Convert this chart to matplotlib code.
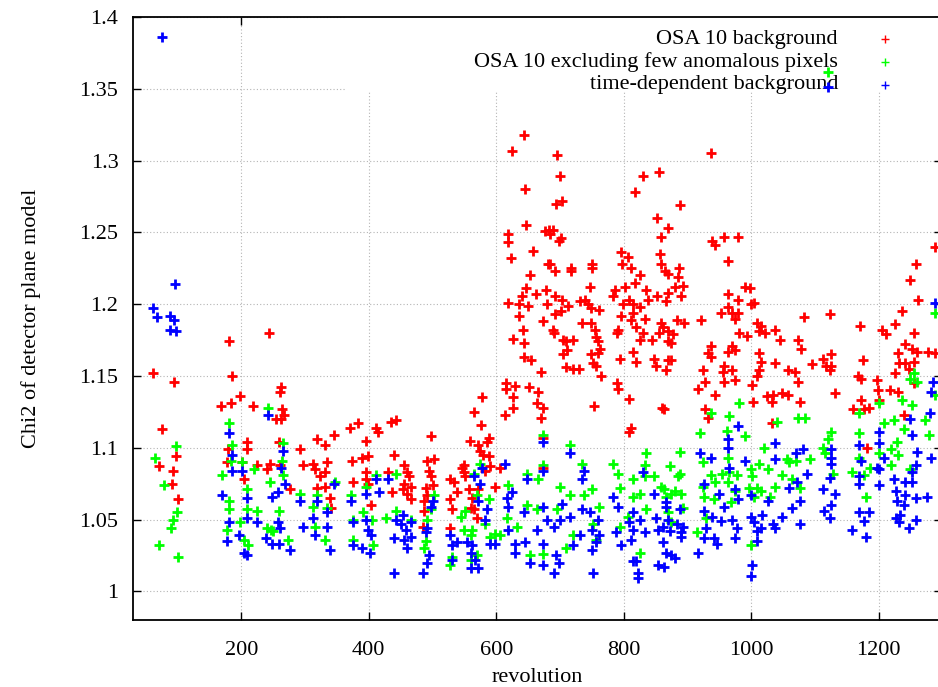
import matplotlib
matplotlib.use("Agg")
import matplotlib.pyplot as plt
from matplotlib.patches import Rectangle
from matplotlib.ticker import FormatStrFormatter

plt.rcParams["font.family"] = ["Liberation Serif", "DejaVu Serif"]

# ---------------------------------------------
# chi2 per revolution, three background models
# ---------------------------------------------
labels = [
    "OSA 10 background",
    "OSA 10 excluding few anomalous pixels",
    "time-dependent background",
]
colors = ["#ff0000", "#00ff00", "#0000ff"]

red_x = [
    243, 181, 62, 185, 95, 263, 260, 198, 168, 184, 219, 264, 267, 254, 262, 76,
    370, 383, 411, 415, 435, 443, 345, 318, 395,
    98, 71, 92, 91, 100, 209, 209, 179, 177, 201, 204, 225, 245, 240, 259, 261,
    276, 292, 297, 313, 315, 332, 334, 331, 323, 319, 332, 339, 341, 374, 375,
    390, 398, 396, 396, 398, 404, 430, 440, 437,
    644, 624, 696, 700, 645, 693, 703, 647, 618, 619, 623, 658, 676, 683, 689,
    685, 699, 701, 682, 684, 692, 717, 718, 751, 750, 653, 795, 807, 798, 812,
    826, 818, 831, 855, 853, 869, 859, 857, 859, 865, 869,
    647, 640, 662, 678, 619, 636, 650, 692, 703, 680, 712, 635, 674, 692, 702,
    731, 739, 747, 744, 748, 761, 734, 749, 755, 757, 759, 763, 759, 749, 752,
    757, 764, 642, 626, 644, 689, 691, 705, 709, 721, 711, 704, 710, 721, 730,
    643, 654, 670, 616, 616, 630, 626, 627, 614, 652, 666, 664, 673, 671, 578,
    565, 576, 754, 790, 791, 808, 812, 860, 783, 786, 802, 817, 809, 814, 799,
    835, 838, 825, 814, 796, 812, 820, 833, 789, 791, 825, 814, 820, 794, 848,
    851, 845, 855, 861, 859, 853, 867, 869, 869, 869, 830,
    497, 455, 460, 463, 455, 466, 460, 466, 453, 492, 502, 494, 497, 490, 492,
    487, 487, 485, 500, 528, 533, 538, 528, 531, 528, 546, 549, 551, 549, 559,
    572, 575, 588, 585, 580, 588, 590, 582, 557, 562, 561, 565, 570, 572, 598,
    606, 674, 674, 809,
    937, 889, 939, 944, 958, 980, 964, 887, 885, 880, 893, 890, 991, 998, 963,
    980, 999, 1004, 963, 953, 970, 980, 975, 921, 883, 894, 1009, 1015, 1038,
    1083, 1123, 1171, 1206, 1226, 1236, 1262, 1250, 1258, 1289,
    870, 877, 875, 981, 994, 1012, 1022, 1046, 1074, 1079, 1211, 1255, 1242,
    1252, 1260, 1277, 1289, 1230, 1232, 1242, 1226, 1255, 1248, 875, 867, 937,
    963, 932, 937, 970, 975, 925, 958, 956, 970, 927, 916, 958, 975, 943, 864,
    927, 932, 1012, 1015, 1038, 1012, 1009, 1001, 1003, 1025, 1035, 1048, 1058,
    1033, 1077, 1033, 1058, 1069, 1074, 1095, 1113, 1126, 1118, 1126, 1123,
    1131, 1175, 1167, 1172, 1197, 1199, 1201, 1218, 1230, 1160, 1172, 1177,
    1185, 1240, 1182, 1255,
]
red_y = [
    1.180, 1.174, 1.152, 1.150, 1.146, 1.142, 1.139, 1.136, 1.129, 1.131, 1.129,
    1.127, 1.123, 1.120, 1.120, 1.113, 1.114, 1.117, 1.114, 1.111, 1.118, 1.119,
    1.109, 1.106, 1.105,
    1.094, 1.087, 1.084, 1.075, 1.064, 1.104, 1.099, 1.099, 1.090, 1.090, 1.078,
    1.088, 1.089, 1.085, 1.104, 1.088, 1.071, 1.099, 1.088, 1.089, 1.085, 1.102,
    1.090, 1.083, 1.080, 1.072, 1.073, 1.065, 1.058, 1.091, 1.076, 1.093, 1.094,
    1.083, 1.078, 1.075, 1.060, 1.083, 1.095, 1.069,
    1.318, 1.307, 1.304, 1.289, 1.280, 1.270, 1.272, 1.255, 1.249, 1.243, 1.232,
    1.237, 1.251, 1.252, 1.252, 1.249, 1.244, 1.246, 1.228, 1.228, 1.223, 1.225,
    1.223, 1.228, 1.225, 1.220, 1.236, 1.233, 1.228, 1.225, 1.220, 1.278, 1.289,
    1.292, 1.260, 1.253, 1.247, 1.235, 1.228, 1.223, 1.221,
    1.211, 1.206, 1.207, 1.210, 1.201, 1.200, 1.199, 1.206, 1.203, 1.200, 1.199,
    1.192, 1.188, 1.193, 1.195, 1.202, 1.203, 1.212, 1.200, 1.197, 1.196, 1.187,
    1.187, 1.182, 1.177, 1.174, 1.169, 1.166, 1.165, 1.159, 1.157, 1.150, 1.182,
    1.176, 1.173, 1.182, 1.180, 1.175, 1.174, 1.175, 1.168, 1.165, 1.156, 1.155,
    1.155, 1.163, 1.161, 1.153, 1.145, 1.141, 1.143, 1.135, 1.128, 1.123, 1.142,
    1.139, 1.131, 1.128, 1.121, 1.135, 1.125, 1.116, 1.129, 1.145, 1.141, 1.134,
    1.114, 1.128, 1.206, 1.210, 1.212, 1.215, 1.203, 1.200, 1.200, 1.210, 1.203,
    1.198, 1.194, 1.192, 1.189, 1.184, 1.190, 1.180, 1.182, 1.175, 1.167, 1.160,
    1.162, 1.162, 1.157, 1.175, 1.180, 1.184, 1.187, 1.206, 1.202, 1.208, 1.161,
    1.174, 1.180,
    1.108, 1.088, 1.083, 1.080, 1.075, 1.073, 1.068, 1.064, 1.071, 1.091, 1.092,
    1.084, 1.080, 1.072, 1.067, 1.063, 1.056, 1.045, 1.074, 1.078, 1.076, 1.069,
    1.064, 1.057, 1.044, 1.086, 1.083, 1.080, 1.088, 1.105, 1.102, 1.098, 1.107,
    1.104, 1.095, 1.094, 1.087, 1.084, 1.071, 1.065, 1.058, 1.057, 1.051, 1.071,
    1.073, 1.086, 1.107, 1.086, 1.111,
    1.305, 1.269, 1.244, 1.241, 1.247, 1.247, 1.230, 1.225, 1.219, 1.212, 1.213,
    1.206, 1.212, 1.211, 1.207, 1.203, 1.200, 1.201, 1.198, 1.194, 1.194, 1.194,
    1.190, 1.189, 1.189, 1.187, 1.187, 1.185, 1.182, 1.191, 1.193, 1.185, 1.182,
    1.186, 1.195, 1.203, 1.217, 1.228, 1.240,
    1.181, 1.179, 1.173, 1.180, 1.178, 1.181, 1.180, 1.175, 1.175, 1.169, 1.179,
    1.180, 1.172, 1.169, 1.167, 1.167, 1.166, 1.166, 1.159, 1.159, 1.152, 1.160,
    1.155, 1.161, 1.154, 1.171, 1.167, 1.166, 1.163, 1.171, 1.168, 1.154, 1.157,
    1.153, 1.154, 1.146, 1.141, 1.146, 1.147, 1.137, 1.127, 1.127, 1.121, 1.166,
    1.160, 1.159, 1.154, 1.150, 1.144, 1.132, 1.136, 1.137, 1.138, 1.137, 1.132,
    1.132, 1.117, 1.154, 1.153, 1.146, 1.158, 1.162, 1.165, 1.157, 1.157, 1.154,
    1.138, 1.161, 1.150, 1.148, 1.147, 1.140, 1.133, 1.140, 1.139, 1.127, 1.133,
    1.127, 1.128, 1.123, 1.100, 1.145,
]

green_x = [
    242, 181, 97, 64, 79, 99, 92, 90, 71, 100,
    186, 183, 170, 201, 220, 209, 180, 180, 177, 198, 209, 225, 245, 246, 240,
    259, 265, 264, 266, 292, 274, 318, 313, 315, 334, 331, 347, 372, 375, 375,
    391, 405, 406, 411, 427, 442, 442, 204, 211, 396, 250,
    466, 492, 489, 487, 502, 497, 528, 531, 544, 551, 549, 561, 562, 565, 575,
    570, 588, 582, 598, 606, 590, 570, 561, 619, 617, 632, 648, 648, 666, 673,
    674, 664, 653, 674, 700, 695, 716, 716, 721, 710, 734, 737, 750, 762, 752,
    757, 783, 791, 794, 794, 815, 815, 825, 833, 835, 833, 848, 859, 825, 835,
    807,
    937, 981, 965, 919, 962, 991, 1041, 1074, 1084, 1126, 1121, 1113, 1020,
    1057, 1070, 1093, 1116, 889, 925, 963, 1012, 1170, 1170, 1201, 1209, 1224,
    1240, 1229, 1255, 1260, 1250, 1237, 1252, 1279, 1273, 1201, 1220, 1230,
    1186, 1170, 1289,
    872, 888, 886, 864, 875, 890, 880, 867, 893, 870, 875, 915, 937, 925, 926,
    944, 954, 965, 978, 963, 975, 942, 968, 929, 999, 1002, 996, 1009, 1015,
    1004, 1027, 1038, 1048, 1030, 1064, 1077, 1059, 999, 1128, 1159, 1177,
    1180, 1220, 1250,
    1121, 1289,
]
green_y = [
    1.128, 1.117, 1.101, 1.093, 1.074, 1.055, 1.050, 1.044, 1.032, 1.024,
    1.102, 1.091, 1.081, 1.090, 1.085, 1.071, 1.063, 1.057, 1.043, 1.048, 1.057,
    1.056, 1.076, 1.043, 1.044, 1.056, 1.103, 1.091, 1.081, 1.068, 1.036, 1.067,
    1.059, 1.045, 1.058, 1.036, 1.076, 1.067, 1.050, 1.036, 1.055, 1.050, 1.032,
    1.081, 1.051, 1.056, 1.082, 1.036, 1.032, 1.073, 1.042,
    1.050, 1.050, 1.035, 1.030, 1.067, 1.057, 1.018, 1.024, 1.052, 1.056, 1.043,
    1.039, 1.043, 1.082, 1.089, 1.067, 1.064, 1.047, 1.040, 1.039, 1.038, 1.025,
    1.022, 1.074, 1.051, 1.045, 1.060, 1.082, 1.078, 1.088, 1.109, 1.057, 1.025,
    1.026, 1.073, 1.057, 1.067, 1.102, 1.039, 1.030, 1.089, 1.067, 1.071, 1.059,
    1.047, 1.036, 1.089, 1.082, 1.072, 1.045, 1.078, 1.066, 1.068, 1.088, 1.096,
    1.080, 1.080, 1.073, 1.027, 1.057, 1.052,
    1.124, 1.131, 1.122, 1.110, 1.112, 1.108, 1.118, 1.121, 1.121, 1.111, 1.106,
    1.100, 1.100, 1.092, 1.091, 1.092, 1.096, 1.097, 1.090, 1.093, 1.089, 1.124,
    1.110, 1.131, 1.117, 1.119, 1.113, 1.104, 1.152, 1.146, 1.148, 1.133, 1.130,
    1.109, 1.119, 1.096, 1.099, 1.095, 1.086, 1.093, 1.137,
    1.087, 1.082, 1.080, 1.071, 1.068, 1.068, 1.070, 1.066, 1.058, 1.055, 1.048,
    1.041, 1.081, 1.073, 1.066, 1.076, 1.082, 1.083, 1.081, 1.076, 1.070, 1.064,
    1.062, 1.051, 1.085, 1.080, 1.072, 1.072, 1.070, 1.066, 1.085, 1.073, 1.081,
    1.066, 1.078, 1.072, 1.090, 1.032, 1.082, 1.083, 1.081, 1.066, 1.088, 1.085,
    1.362, 1.194,
]

blue_x = [
    76, 96, 62, 68, 88, 95, 88, 98, 242, 181,
    186, 185, 201, 170, 209, 209, 180, 177, 197, 204, 209, 224, 239, 248, 259,
    261, 258, 248, 258, 269, 265, 262, 276, 292, 297, 313, 318, 315, 334, 334,
    339, 345, 372, 375, 376, 390, 396, 398, 404, 402, 396, 411, 416, 440, 430,
    442, 440,
    450, 458, 466, 455, 460, 453, 466, 485, 489, 492, 494, 492, 497, 500, 528,
    531, 531, 539, 554, 561, 562, 567, 572, 561, 565, 575, 572, 585, 582, 590,
    598, 577, 614, 617, 624, 619, 619, 630, 630, 645, 653, 648, 643, 664, 674,
    680, 674, 674, 674, 673, 690, 693, 690, 698, 700, 703, 716, 716, 721, 731,
    734, 734, 737, 747, 750, 750, 752, 760, 762, 757, 783, 791, 788, 796, 809,
    815, 812, 815, 820, 823, 823, 815, 825, 830, 833, 848, 851, 854, 867, 854,
    979, 963, 963, 1038, 1038, 1082, 1070, 1126, 1126, 1126, 919, 937, 991, 965,
    1170, 1172, 1201, 1201, 1209, 1197, 1250, 1252, 1260, 1258, 1280, 1283,
    1286, 1283,
    867, 870, 862, 873, 883, 890, 893, 888, 862, 867, 875, 880, 863, 890, 916,
    926, 926, 929, 926, 939, 942, 947, 949, 952, 957, 970, 975, 975, 980, 978,
    999, 999, 1004, 1009, 1009, 1002, 999, 1015, 1017, 1027, 1035, 1038, 1048,
    1059, 1072, 1064, 1077, 1077, 1087, 1113, 1123, 1131, 1126, 1115, 1123,
    1159, 1170, 1177, 1185, 1180, 1170, 1170, 1201, 1201, 1224, 1227, 1229,
    1242, 1240, 1227, 1232, 1234, 1247, 1258, 1258, 1276, 1242, 1252, 1252,
    1121, 1289,
]
blue_y = [
    1.386, 1.214, 1.197, 1.191, 1.192, 1.189, 1.182, 1.181, 1.123, 1.110,
    1.095, 1.084, 1.084, 1.067, 1.065, 1.051, 1.048, 1.035, 1.039, 1.027, 1.025,
    1.048, 1.037, 1.033, 1.033, 1.044, 1.048, 1.066, 1.069, 1.075, 1.098, 1.086,
    1.029, 1.063, 1.045, 1.051, 1.063, 1.039, 1.055, 1.045, 1.029, 1.075, 1.063,
    1.048, 1.032, 1.030, 1.050, 1.043, 1.039, 1.027, 1.068, 1.078, 1.069, 1.013,
    1.078, 1.050, 1.037,
    1.047, 1.043, 1.048, 1.036, 1.030, 1.053, 1.038, 1.013, 1.041, 1.044, 1.025,
    1.020, 1.059, 1.063, 1.039, 1.032, 1.022, 1.034, 1.034, 1.027, 1.032, 1.022,
    1.016, 1.016, 1.080, 1.075, 1.063, 1.057, 1.050, 1.033, 1.033, 1.086, 1.089,
    1.065, 1.069, 1.059, 1.043, 1.033, 1.027, 1.034, 1.020, 1.078, 1.055, 1.043,
    1.059, 1.050, 1.033, 1.018, 1.104, 1.084, 1.045, 1.025, 1.013, 1.020, 1.050,
    1.061, 1.052, 1.096, 1.032, 1.039, 1.057, 1.078, 1.084, 1.055, 1.043, 1.029,
    1.013, 1.050, 1.039, 1.034, 1.066, 1.059, 1.041, 1.032, 1.048, 1.043, 1.036,
    1.021, 1.021, 1.013, 1.009, 1.055, 1.050, 1.083, 1.041, 1.068, 1.051, 1.043,
    1.059, 1.018,
    1.115, 1.106, 1.100, 1.103, 1.092, 1.099, 1.096, 1.099, 1.093, 1.089, 1.096,
    1.093, 1.091, 1.086, 1.102, 1.091, 1.111, 1.103, 1.093, 1.086, 1.120, 1.109,
    1.097, 1.088, 1.124, 1.093, 1.146, 1.139,
    1.062, 1.050, 1.045, 1.042, 1.047, 1.041, 1.045, 1.057, 1.034, 1.027, 1.025,
    1.023, 1.017, 1.038, 1.027, 1.075, 1.056, 1.044, 1.037, 1.052, 1.037, 1.033,
    1.068, 1.049, 1.059, 1.050, 1.037, 1.071, 1.064, 1.044, 1.067, 1.052, 1.048,
    1.042, 1.035, 1.018, 1.011, 1.044, 1.053, 1.063, 1.047, 1.044, 1.052, 1.072,
    1.076, 1.058, 1.063, 1.047, 1.082, 1.071, 1.079, 1.068, 1.060, 1.056, 1.051,
    1.043, 1.055, 1.049, 1.055, 1.038, 1.075, 1.080, 1.085, 1.074, 1.078, 1.070,
    1.063, 1.067, 1.060, 1.051, 1.048, 1.053, 1.044, 1.050, 1.065, 1.066, 1.076,
    1.076, 1.083,
    1.351, 1.201,
]

x_ticks = [200, 400, 600, 800, 1000, 1200]
y_ticks = [1.0, 1.05, 1.1, 1.15, 1.2, 1.25, 1.3, 1.35, 1.4]

# ---------------------------------------------
# figure
# ---------------------------------------------
fig = plt.figure(figsize=(9.38, 6.87), dpi=100)
ax = fig.add_axes([0.1418, 0.0975, 0.8628, 0.8777])

ax.set_xlim(30, 1300)
ax.set_ylim(0.98, 1.4)
ax.set_xticks(x_ticks)
ax.set_yticks(y_ticks)
ax.yaxis.set_major_formatter(FormatStrFormatter("%g"))

ax.set_axisbelow(True)
ax.grid(True, linestyle=(0, (1, 2)), color="#b4b4b4", linewidth=0.8)
ax.tick_params(direction="in", length=6, width=1.0, top=True, right=True,
               labelsize=16, colors="black")
ax.tick_params(axis="x", pad=15)
ax.tick_params(axis="y", pad=10.5)
for sp in ax.spines.values():
    sp.set_linewidth(1.3)

# key area is opaque over the grid
ax.add_patch(Rectangle((0.262, 0.8756), 0.75, 0.13, transform=ax.transAxes,
                       facecolor="white", edgecolor="none", zorder=1))

series = [(red_x, red_y), (green_x, green_y), (blue_x, blue_y)]
for (xs, ys), c in zip(series, colors):
    ax.plot(xs, ys, linestyle="none", marker="+", color=c,
            markersize=7.5, markeredgewidth=2.0, zorder=3)

# key: right-aligned text, marker to the right
key_y = [0.963, 0.9247, 0.888]
for lab, c, ky in zip(labels, colors, key_y):
    ax.text(0.871, ky, lab, transform=ax.transAxes, ha="right", va="center",
            fontsize=16, zorder=2)
    ax.plot([0.929], [ky], transform=ax.transAxes, linestyle="none",
            marker="+", color=c, markersize=5.5, markeredgewidth=1.0,
            zorder=2, clip_on=False)

ax.set_xlabel("revolution", fontsize=16, labelpad=6)
ax.set_ylabel("Chi2 of detector plane model", fontsize=16, labelpad=28)

fig.savefig("out.png", dpi=100)
